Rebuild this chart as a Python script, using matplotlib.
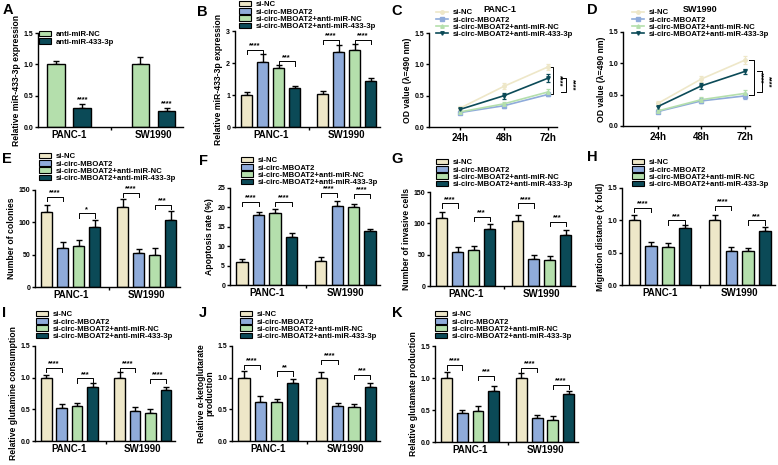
import numpy as np
import matplotlib.pyplot as plt
from matplotlib.lines import Line2D
from matplotlib.patches import Patch

plt.rcParams['font.family'] = ['Liberation Sans', 'DejaVu Sans']
plt.rcParams['font.weight'] = 'bold'

W, H = 778, 465

groups = ['PANC-1', 'SW1990']
conds = ['si-NC', 'si-circ-MBOAT2', 'si-circ-MBOAT2+anti-miR-NC', 'si-circ-MBOAT2+anti-miR-433-3p']
colors = ['#EEE7C8', '#8FABDA', '#B4DFAC', '#0B4A57']
times = ['24h', '48h', '72h']

# panel A
a_conds = ['anti-miR-NC', 'anti-miR-433-3p']
a_mean = [[1.0, 0.31], [1.0, 0.26]]
a_err = [[0.05, 0.05], [0.11, 0.04]]

# bar panels, values per group: [si-NC, si-circ, +anti-NC, +anti-433]
b_mean = [[1.0, 2.03, 1.85, 1.22], [1.02, 2.35, 2.42, 1.45]]
b_err = [[0.08, 0.25, 0.08, 0.07], [0.10, 0.20, 0.18, 0.08]]
b_sig = [(0, 0, 1, 2.42, '****'), (0, 2, 3, 2.05, '***'), (1, 0, 1, 2.72, '****'), (1, 2, 3, 2.72, '****')]

e_mean = [[116, 61, 63, 93], [124, 52, 50, 104]]
e_err = [[11, 8, 9, 11], [12, 6, 10, 13]]
e_sig = [(0, 0, 1, 139, '****'), (0, 2, 3, 114, '*'), (1, 0, 1, 146, '****'), (1, 2, 3, 127, '***')]

f_mean = [[5.9, 18.1, 18.6, 12.3], [6.3, 20.4, 20.0, 13.8]]
f_err = [[0.7, 0.8, 0.9, 1.2], [0.8, 1.2, 1.0, 0.7]]
f_sig = [(0, 0, 1, 21.4, '****'), (0, 2, 3, 21.4, '****'), (1, 0, 1, 23.7, '****'), (1, 2, 3, 23.5, '****')]

g_mean = [[108, 55, 57, 91], [104, 43, 42, 82]]
g_err = [[10, 7, 7, 8], [10, 7, 6, 7]]
g_sig = [(0, 0, 1, 132, '****'), (0, 2, 3, 110, '***'), (1, 0, 1, 132, '****'), (1, 2, 3, 102, '***')]

h_mean = [[1.0, 0.60, 0.58, 0.88], [1.0, 0.53, 0.52, 0.84]]
h_err = [[0.09, 0.06, 0.07, 0.05], [0.09, 0.06, 0.05, 0.05]]
h_sig = [(0, 0, 1, 1.19, '****'), (0, 2, 3, 1.00, '***'), (1, 0, 1, 1.22, '****'), (1, 2, 3, 1.00, '***')]

i_mean = [[1.0, 0.52, 0.55, 0.85], [1.0, 0.47, 0.44, 0.81]]
i_err = [[0.05, 0.07, 0.05, 0.07], [0.09, 0.06, 0.06, 0.05]]
i_sig = [(0, 0, 1, 1.15, '****'), (0, 2, 3, 0.99, '***'), (1, 0, 1, 1.15, '****'), (1, 2, 3, 0.98, '****')]

j_mean = [[1.0, 0.61, 0.62, 0.91], [1.0, 0.56, 0.53, 0.85]]
j_err = [[0.10, 0.10, 0.05, 0.07], [0.09, 0.04, 0.05, 0.07]]
j_sig = [(0, 0, 1, 1.20, '****'), (0, 2, 3, 1.10, '**'), (1, 0, 1, 1.28, '****'), (1, 2, 3, 1.05, '***')]

k_mean = [[1.0, 0.45, 0.48, 0.80], [1.0, 0.37, 0.35, 0.75]]
k_err = [[0.10, 0.05, 0.08, 0.08], [0.08, 0.05, 0.05, 0.04]]
k_sig = [(0, 0, 1, 1.20, '****'), (0, 2, 3, 1.03, '***'), (1, 0, 1, 1.16, '****'), (1, 2, 3, 0.89, '****')]

# time course panels, per condition: 24h, 48h, 72h
c_mean = [[0.30, 0.65, 0.96], [0.23, 0.34, 0.52], [0.24, 0.37, 0.56], [0.28, 0.50, 0.78]]
c_err = [[0.03, 0.05, 0.05], [0.02, 0.03, 0.03], [0.02, 0.03, 0.04], [0.03, 0.05, 0.06]]
d_mean = [[0.36, 0.75, 1.05], [0.23, 0.40, 0.48], [0.24, 0.42, 0.52], [0.31, 0.64, 0.87]]
d_err = [[0.04, 0.05, 0.06], [0.03, 0.04, 0.05], [0.03, 0.05, 0.06], [0.05, 0.05, 0.04]]

fig = plt.figure(figsize=(W / 100, H / 100), dpi=100)


def box(l, t, r, b):
    return [l / W, 1 - b / H, (r - l) / W, (b - t) / H]


def style(ax, ylim, yticks, fmt, ylabel):
    ax.spines['top'].set_visible(False)
    ax.spines['right'].set_visible(False)
    ax.spines['left'].set_linewidth(1)
    ax.spines['bottom'].set_linewidth(1)
    ax.set_ylim(*ylim)
    ax.set_yticks(yticks)
    ax.set_yticklabels([fmt.format(v) for v in yticks], fontsize=5, fontweight='bold')
    ax.tick_params(axis='y', length=2.5, width=1, pad=1)
    ax.set_ylabel(ylabel, fontsize=6.2, fontweight='bold', labelpad=2, linespacing=1.0)


def legend(handles, labels, x, y):
    fig.legend(handles, labels, loc='upper left', bbox_to_anchor=(x / W, 1 - y / H),
               frameon=False, handlelength=1.5, handleheight=0.7,
               labelspacing=-0.03, borderpad=0, borderaxespad=0, handletextpad=0.6,
               prop={'size': 5.6, 'weight': 'bold'})


def bars(rect, means, errs, sig, ylim, yticks, fmt, ylabel, leg, cols=colors, labels=conds):
    ax = fig.add_axes(box(*rect))
    n = len(means[0])
    if n == 4:
        step, w = 0.21, 0.145
    else:
        step, w = 0.31, 0.21
    offs = (np.arange(n) - (n - 1) / 2) * step
    for k in range(n):
        xs = np.arange(len(groups)) + offs[k]
        ys = [m[k] for m in means]
        es = [e[k] for e in errs]
        ax.bar(xs, ys, w, color=cols[k], edgecolor='black', linewidth=1, zorder=2)
        ax.errorbar(xs, ys, yerr=[np.zeros(len(es)), es], fmt='none', ecolor='black',
                    elinewidth=1, capsize=2, capthick=1, zorder=1)
    span = ylim[1] - ylim[0]
    for g, i, j, yb, txt in sig:
        x1, x2 = g + offs[i], g + offs[j]
        h = span * 0.045
        ax.plot([x1, x1, x2, x2], [yb - h, yb, yb, yb - h], color='black', lw=0.7)
        ax.text((x1 + x2) / 2, yb + span * 0.005, txt, ha='center', va='bottom', fontsize=5.3)
    ax.set_xlim(-0.47 if n == 4 else -0.37, 1.44 if n == 4 else 1.35)
    ax.set_xticks(range(len(groups)))
    ax.set_xticklabels(groups, fontsize=7, fontweight='bold')
    ax.tick_params(axis='x', length=0, pad=2)
    ax.set_xticks([0.5], minor=True)
    ax.tick_params(axis='x', which='minor', length=2.5, width=1)
    style(ax, ylim, yticks, fmt, ylabel)
    handles = [Patch(facecolor=c, edgecolor='black', linewidth=0.8) for c in cols[:n]]
    legend(handles, labels[:n], *leg)
    return ax


def lines(rect, means, errs, title, tx, xlim, brk, leg):
    ax = fig.add_axes(box(*rect))
    marks = ['o', 's', '^', 'v']
    x = np.arange(len(times))
    hs = []
    for k in range(4):
        ax.errorbar(x, means[k], yerr=errs[k], color=colors[k], marker=marks[k], ms=2.5,
                    lw=1.2, elinewidth=0.9, capsize=1.5, capthick=0.9)
        hs.append(Line2D([], [], color=colors[k], marker=marks[k], ms=2.5, lw=1.2))
    ax.set_xlim(*xlim)
    ax.set_xticks(x)
    ax.set_xticklabels(times, fontsize=7, fontweight='bold')
    ax.tick_params(axis='x', length=2.5, width=1, pad=2)
    style(ax, (0, 1.5), [0, 0.5, 1.0, 1.5], '{:.1f}', 'OD value (\u03bb=490 nm)')
    for xb, y1, y2 in brk:
        ax.plot([xb - 0.12, xb, xb, xb - 0.12], [y1, y1, y2, y2], color='black', lw=0.7, clip_on=False)
        ax.text(xb + 0.06, (y1 + y2) / 2, '****', rotation=270, ha='left', va='center', fontsize=5.3)
    fig.text(tx / W, 1 - 10 / H, title, ha='center', va='center', fontsize=6.5, fontweight='bold')
    legend(hs, conds, *leg)
    return ax


# row 1
axA = bars((38, 33, 183, 127), a_mean, a_err, [], (0, 1.5), [0, 0.5, 1.0, 1.5], '{:.1f}',
           'Relative miR-433-3p expression', (39, 31), cols=[colors[2], colors[3]], labels=a_conds)
for g in range(2):
    axA.text(g + 0.155, a_mean[g][1] + a_err[g][1] + 0.02, '****', ha='center', va='bottom', fontsize=5.3)

bars((235, 31, 380, 127), b_mean, b_err, b_sig, (0, 3), [0, 1, 2, 3], '{:d}',
     'Relative miR-433-3p expression', (239, 1))
lines((429, 33, 557, 127), c_mean, c_err, 'PANC-1', 500, (-0.7, 2.2),
      [(2.12, 0.96, 0.52), (2.4, 0.78, 0.56)], (436, 9))
lines((623, 32, 750, 126), d_mean, d_err, 'SW1990', 700, (-0.8, 2.12),
      [(2.22, 1.05, 0.50), (2.4, 0.87, 0.55)], (632, 9))

# row 2
bars((35, 190, 180, 287), e_mean, e_err, e_sig, (0, 150), [0, 50, 100, 150], '{:d}',
     'Number of colonies', (39, 153))
bars((230, 188, 380, 285), f_mean, f_err, f_sig, (0, 25), [0, 5, 10, 15, 20, 25], '{:d}',
     'Apoptosis rate (%)', (241, 157))
bars((430, 192, 575, 286), g_mean, g_err, g_sig, (0, 150), [0, 50, 100, 150], '{:d}',
     'Number of invasive cells', (436, 159))
bars((622, 188, 775, 285), h_mean, h_err, h_sig, (0, 1.5), [0, 0.5, 1.0, 1.5], '{:.1f}',
     'Migration distance (x fold)', (632, 159))

# row 3
bars((35, 346, 175, 441), i_mean, i_err, i_sig, (0, 1.5), [0, 0.5, 1.0, 1.5], '{:.1f}',
     'Relative glutamine consumption', (36, 311))
bars((232, 346, 380, 441), j_mean, j_err, j_sig, (0, 1.5), [0, 0.5, 1.0, 1.5], '{:.1f}',
     'Relative \u03b1-ketoglutarate\nproduction', (240, 311))
bars((435, 346, 578, 442), k_mean, k_err, k_sig, (0, 1.5), [0, 0.5, 1.0, 1.5], '{:.1f}',
     'Relative glutamate production', (435, 311))

letters = [('A', 3, 3), ('B', 197, 5), ('C', 391, 4), ('D', 587, 3), ('E', 2, 152), ('F', 199, 154),
           ('G', 391, 152), ('H', 587, 150), ('I', 2, 306), ('J', 199, 306), ('K', 392, 306)]
for t, x, y in letters:
    fig.text(x / W, 1 - y / H, t, ha='left', va='top', fontsize=10.5, fontweight='bold')

fig.savefig('out.png', dpi=100)
